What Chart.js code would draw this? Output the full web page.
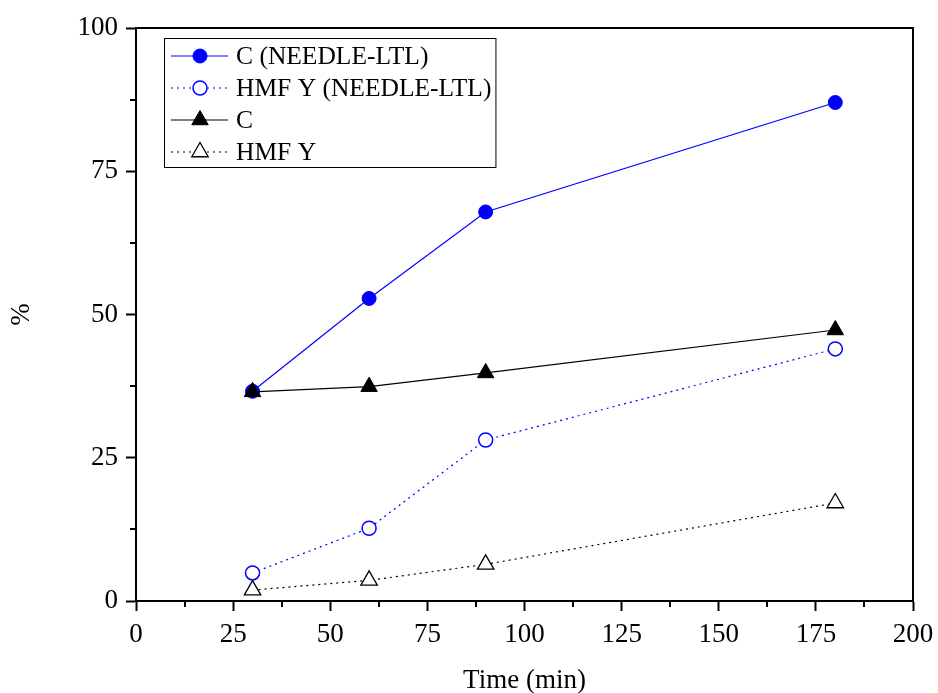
<!DOCTYPE html>
<html>
<head>
<meta charset="utf-8">
<script src="https://cdn.jsdelivr.net/npm/chart.js@4.4.1/dist/chart.umd.min.js"></script>
<style>
html,body{margin:0;padding:0;background:#fff;}
canvas{display:block;}
</style>
</head>
<body>
<canvas id="c" width="938" height="693"></canvas>
<script>
const times = [30, 60, 90, 180];
const cNeedle = [36.6, 52.8, 67.9, 87.0];
const hmfNeedle = [4.9, 12.7, 28.1, 44.0];
const cBase = [36.5, 37.4, 39.8, 47.3];
const hmfBase = [1.9, 3.6, 6.4, 17.1];
const seriesLabels = ['C (NEEDLE-LTL)', 'HMF Y (NEEDLE-LTL)', 'C', 'HMF Y'];
const xTicks = [0, 25, 50, 75, 100, 125, 150, 175, 200];
const yTicks = [0, 25, 50, 75, 100];

const FONT = "'Liberation Serif', 'Times New Roman', serif";
const BLUE = '#0000ff';

function pts(vals){ return times.map((t,i)=>({x:t,y:vals[i]})); }

const datasets = [
  {label: seriesLabels[0], data: pts(cNeedle), borderColor: BLUE, backgroundColor: BLUE,
   borderWidth: 1.2, pointStyle: 'circle', pointRadius: 7, pointBorderColor: BLUE, pointBackgroundColor: BLUE, pointBorderWidth: 1, order: 3},
  {label: seriesLabels[1], data: pts(hmfNeedle), borderColor: BLUE, backgroundColor: '#fff',
   borderWidth: 1.2, borderDash: [2,4], pointStyle: 'circle', pointRadius: 7, pointBorderColor: BLUE, pointBackgroundColor: '#fff', pointBorderWidth: 1.5, order: 2},
  {label: seriesLabels[2], data: pts(cBase), borderColor: '#000', backgroundColor: '#000',
   borderWidth: 1.2, pointStyle: 'triangle', pointRadius: 9.5, pointBorderColor: '#000', pointBackgroundColor: '#000', pointBorderWidth: 1, order: 0},
  {label: seriesLabels[3], data: pts(hmfBase), borderColor: '#000', backgroundColor: '#fff',
   borderWidth: 1.2, borderDash: [2,4], pointStyle: 'triangle', pointRadius: 9.5, pointBorderColor: '#000', pointBackgroundColor: '#fff', pointBorderWidth: 1.3, order: 1}
];

const LEGEND_FONT = '25.5px ' + FONT;

const extras = {
  id: 'extras',
  afterDraw(chart){
    const ctx = chart.ctx;
    const a = chart.chartArea;
    const xs = chart.scales.x, ys = chart.scales.y;
    ctx.save();
    // frame
    ctx.strokeStyle = '#000';
    ctx.lineWidth = 2;
    ctx.beginPath();
    ctx.moveTo(a.left, a.top); ctx.lineTo(a.right, a.top); ctx.lineTo(a.right, a.bottom);
    ctx.stroke();
    // minor ticks
    ctx.lineWidth = 2;
    ctx.beginPath();
    for (let i = 0; i < xTicks.length - 1; i++) {
      const v = (xTicks[i] + xTicks[i+1]) / 2;
      const px = Math.round(xs.getPixelForValue(v));
      ctx.moveTo(px, a.bottom); ctx.lineTo(px, a.bottom + 6);
    }
    for (let i = 0; i < yTicks.length - 1; i++) {
      const v = (yTicks[i] + yTicks[i+1]) / 2;
      const py = Math.round(ys.getPixelForValue(v));
      ctx.moveTo(a.left, py); ctx.lineTo(a.left - 6, py);
    }
    ctx.stroke();
    // legend
    const bx = 164, by = 38, rowH = 32, firstY = 56;
    ctx.font = LEGEND_FONT;
    let maxW = 0;
    chart.data.datasets.forEach(d => { maxW = Math.max(maxW, ctx.measureText(d.label).width); });
    const textX = 236;
    const bw = textX + maxW + 4 - bx, bh = 129;
    ctx.fillStyle = '#fff';
    ctx.fillRect(bx, by, bw, bh);
    ctx.lineWidth = 1;
    ctx.strokeStyle = '#000';
    ctx.strokeRect(bx + 0.5, by + 0.5, bw, bh);
    chart.data.datasets.forEach((d, i) => {
      const y = firstY + i * rowH;
      ctx.save();
      ctx.strokeStyle = d.borderColor;
      ctx.lineWidth = d.borderWidth;
      ctx.setLineDash(d.borderDash || []);
      ctx.beginPath();
      ctx.moveTo(171, y); ctx.lineTo(228, y);
      ctx.stroke();
      ctx.setLineDash([]);
      ctx.fillStyle = d.pointBackgroundColor;
      ctx.strokeStyle = d.pointBorderColor;
      ctx.lineWidth = d.pointBorderWidth;
      Chart.helpers.drawPoint(ctx, {pointStyle: d.pointStyle, radius: d.pointRadius, borderWidth: d.pointBorderWidth}, 200, y);
      ctx.restore();
      ctx.fillStyle = '#000';
      ctx.textBaseline = 'middle';
      ctx.textAlign = 'left';
      ctx.font = LEGEND_FONT;
      ctx.fillText(d.label, textX, y + 1);
    });
    ctx.restore();
  }
};

new Chart(document.getElementById('c'), {
  type: 'line',
  data: { datasets },
  options: {
    responsive: false,
    animation: false,
    layout: { padding: { left: 0, right: 25, top: 28, bottom: 0 } },
    plugins: { legend: { display: false }, tooltip: { enabled: false } },
    scales: {
      x: {
        type: 'linear', min: 0, max: 200,
        afterBuildTicks(s){ s.ticks = xTicks.map(v => ({value: v})); },
        afterFit(s){ s.height = 92; s.paddingLeft = 0; s.paddingRight = 0; },
        grid: { drawOnChartArea: false, drawTicks: true, tickLength: 10, tickWidth: 2, tickColor: '#000' },
        border: { display: true, color: '#000', width: 2 },
        ticks: { color: '#000', font: { family: FONT, size: 27 }, padding: 8, maxRotation: 0 },
        title: { display: true, text: 'Time (min)', color: '#000', font: { family: FONT, size: 27, lineHeight: 1 }, padding: { top: 0, bottom: -1 } }
      },
      y: {
        type: 'linear', min: 0, max: 100,
        afterBuildTicks(s){ s.ticks = yTicks.map(v => ({value: v})); },
        afterFit(s){ s.width = 136; s.paddingTop = 0; s.paddingBottom = 0; },
        grid: { drawOnChartArea: false, drawTicks: true, tickLength: 10, tickWidth: 2, tickColor: '#000' },
        border: { display: true, color: '#000', width: 2 },
        ticks: { color: '#000', font: { family: FONT, size: 27 }, padding: 8 },
        title: { display: true, text: '%', color: '#000', font: { family: FONT, size: 27, lineHeight: 1 }, padding: { top: 8, bottom: 0 } }
      }
    }
  },
  plugins: [extras]
});
</script>
</body>
</html>
